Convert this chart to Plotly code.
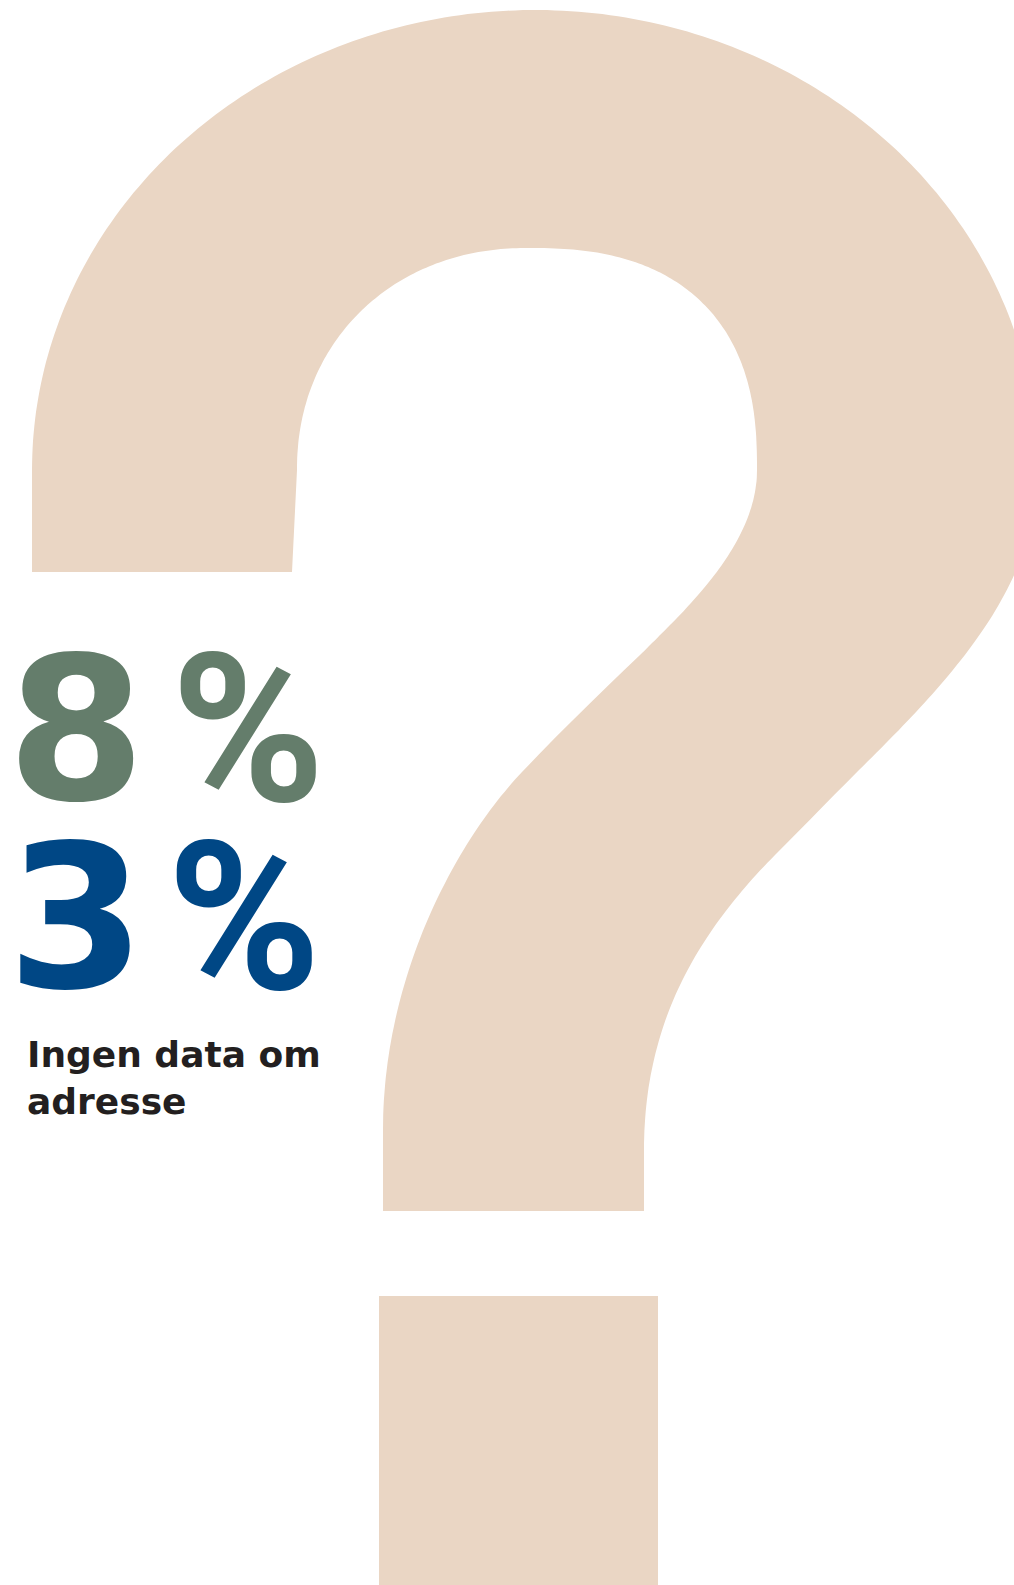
import numpy as np
import plotly.graph_objects as go

# ---- data ----
shares = [8, 3]                      # percent
share_colors = ["#647d6b", "#004785"]
caption_lines = ["Ingen data om", "adresse"]

# ---- decorative question-mark geometry (pixel space) ----
W, H = 1014, 1585
QM_FILL = "#ead6c4"


def bez(p0, c1, c2, p3, n=60):
    p0, c1, c2, p3 = (np.array(p, float) for p in (p0, c1, c2, p3))
    out = []
    for t in np.linspace(0, 1, n):
        u = 1 - t
        q = u**3 * p0 + 3 * u * u * t * c1 + 3 * u * t * t * c2 + t**3 * p3
        out.append(tuple(q))
    return out


def superellipse(cx, cy, a, b, t0, t1, n_left=2.0, n_right=2.0, n=200):
    out = []
    for t in np.linspace(t0, t1, n):
        c, s = np.cos(t), np.sin(t)
        e = n_right if c >= 0 else n_left
        x = cx + a * np.sign(c) * abs(c) ** (2 / e)
        y = cy - b * np.sign(s) * abs(s) ** (2 / e)
        out.append((x, y))
    return out


# outer contour: left leg, big bowl, S-curve down to the stem
outer = [(32, 572)] + superellipse(535, 470, 503, 460, np.pi, 0.0)
outer += bez((1038, 470), (1038, 590), (945, 685), (859, 770))[1:]
outer += bez((859, 770), (830, 799), (803, 827), (775, 855), n=8)[1:]
outer += bez((775, 855), (700, 931), (644, 1020), (644, 1150))[1:]
outer += [(644, 1211), (383, 1211), (383, 1130)]

# inner contour: stem up the S-curve, round the counter, down the left leg
inner = bez((383, 1130), (383, 980), (453, 845), (522, 772))[1:]
inner += bez((522, 772), (561, 731), (601, 692), (640, 655), n=8)[1:]
inner += bez((640, 655), (685, 610), (757, 545), (757, 470))[1:]
inner += superellipse(527, 470, 230, 222, 0.0, np.pi, n_left=2.1, n_right=2.5)[1:]
inner += [(292, 572)]

poly = outer + inner
path = "M " + " L ".join(f"{x:.1f},{y:.1f}" for x, y in poly) + " Z"

fig = go.Figure()
fig.add_trace(go.Scatter(x=[0, W], y=[0, H], mode="markers",
                         marker=dict(opacity=0), hoverinfo="skip", showlegend=False))

fig.add_shape(type="path", path=path, xref="x", yref="y",
              fillcolor=QM_FILL, line=dict(width=0), layer="below")
fig.add_shape(type="rect", x0=379, x1=658, y0=1296, y1=H + 20, xref="x", yref="y",
              fillcolor=QM_FILL, line=dict(width=0), layer="below")

# ---- big percentages ----
row_y = [730, 918]
pct_x = [248, 244]
for v, c, yy, px in zip(shares, share_colors, row_y, pct_x):
    fig.add_annotation(x=76, y=yy, text=f"{v}", showarrow=False, xref="x", yref="y",
                       xanchor="center", yanchor="middle", valign="middle",
                       borderpad=0, height=178,
                       font=dict(family="DejaVu Sans", size=199, color=c, weight=700))
    fig.add_annotation(x=px, y=yy, text="%", showarrow=False, xref="x", yref="y",
                       xanchor="center", yanchor="middle", valign="middle",
                       borderpad=0, height=178,
                       font=dict(family="Roboto", size=208, color=c, weight=700))

fig.add_annotation(x=26, y=1033, text="<br>".join(caption_lines), showarrow=False,
                   xref="x", yref="y", xanchor="left", yanchor="top", align="left",
                   borderpad=0,
                   font=dict(family="DejaVu Sans", size=36, color="#231f20", weight=700))

fig.update_xaxes(range=[0, W], visible=False, fixedrange=True)
fig.update_yaxes(range=[H, 0], visible=False, fixedrange=True)
fig.update_layout(width=W, height=H, autosize=False,
                  margin=dict(l=0, r=0, t=0, b=0, pad=0),
                  paper_bgcolor="white", plot_bgcolor="white", showlegend=False)

fig.write_html("out.html", config={"displayModeBar": False},
               post_script="document.body.style.margin='0px';")
